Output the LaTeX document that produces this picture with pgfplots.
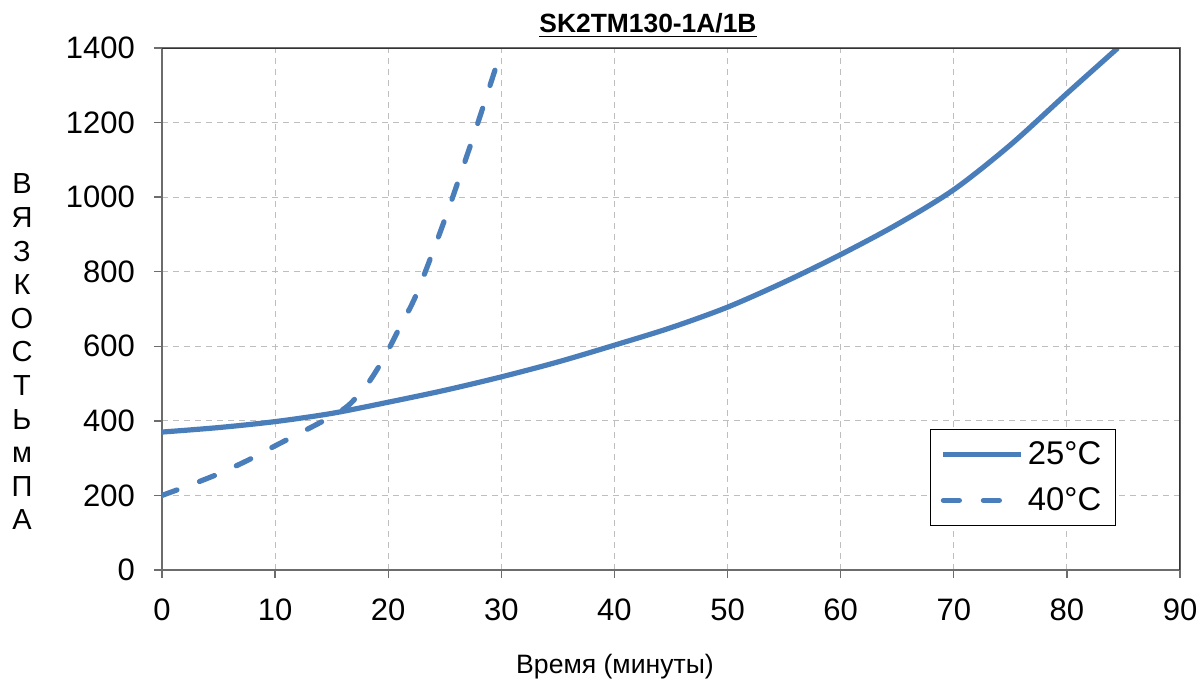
\documentclass[border=0pt]{standalone}
\usepackage{fontspec}
\setmainfont{Liberation Sans}
\usepackage{pgfplots}
\pgfplotsset{compat=1.18}
\definecolor{serblue}{HTML}{4A7EBB}
\definecolor{gridgray}{RGB}{190,190,190}
\begin{document}
\begin{tikzpicture}
\useasboundingbox (-81pt,-55.5pt) rectangle (521pt,285pt);
\begin{axis}[
  scale only axis, width=509pt, height=261pt,
  at={(0,0)}, anchor=south west,
  xmin=0, xmax=90, ymin=0, ymax=1400,
  xtick={0,10,...,90}, ytick={0,200,...,1400},
  /pgf/number format/assume math mode=true,
  /pgf/number format/1000 sep={},
  tick label style={font=\fontsize{15.5}{18}\selectfont},
  yticklabel style={xshift=-6pt},
  xticklabel style={yshift=-7pt},
  grid=major,
  major grid style={gridgray, line width=0.6pt, dash pattern=on 3pt off 2.5pt},
  axis line style={draw=gray!85!black, line width=0.7pt},
  tick style={draw=gray!85!black, line width=0.7pt},
  tick align=outside, major tick length=4pt,
  xtick pos=bottom, ytick pos=left,
  legend style={draw=black, line width=0.6pt, at={(0.937,0.0843)}, anchor=south east,
    font=\fontsize{16.4}{19}\selectfont, row sep=6pt, inner xsep=5pt, inner ysep=4pt},
  legend cell align=left,
  legend image code/.code={\draw[#1] (0pt,0pt) -- (39pt,0pt);},
]
\addplot[serblue, line width=2.6pt, smooth, tension=0.5] coordinates {
(0,370) (5,382) (10,398) (15,420) (20,450) (25,482) (30,518) (35,558) (40,603)
(45,650) (50,705) (55,772) (60,846) (65,927) (70,1020) (75,1140) (80,1278) (84.5,1400)};
\addlegendentry{25°C}
\addplot[serblue, line width=2.6pt, line cap=round, dash pattern=on 8pt off 12pt, smooth, tension=0.5] coordinates {
(0,200) (2.5,228) (5,258) (7.5,293) (10,333) (12.5,372) (15,412) (16.5,442) (18,492)
(19,537) (20,590) (21,650) (22.5,740) (25,940) (27.5,1160) (29.8,1375)};
\addlegendentry{40°C}
\draw[black!80, line width=0.8pt] (rel axis cs:0,1) -- (rel axis cs:1,1) -- (rel axis cs:1,0);
\end{axis}
\node[anchor=base, font=\fontsize{13.2}{15}\selectfont\bfseries] at (243pt,268.5pt) {\underline{SK2TM130-1A/1B}};
\node[align=center, font=\fontsize{14.5}{16.8}\selectfont] at (-70pt,109pt) {В\\Я\\З\\К\\О\\С\\Т\\Ь\\м\\П\\А};
\node[anchor=base, font=\fontsize{13.3}{15}\selectfont] at (226.5pt,-51.5pt) {Время (минуты)};
\end{tikzpicture}
\end{document}
